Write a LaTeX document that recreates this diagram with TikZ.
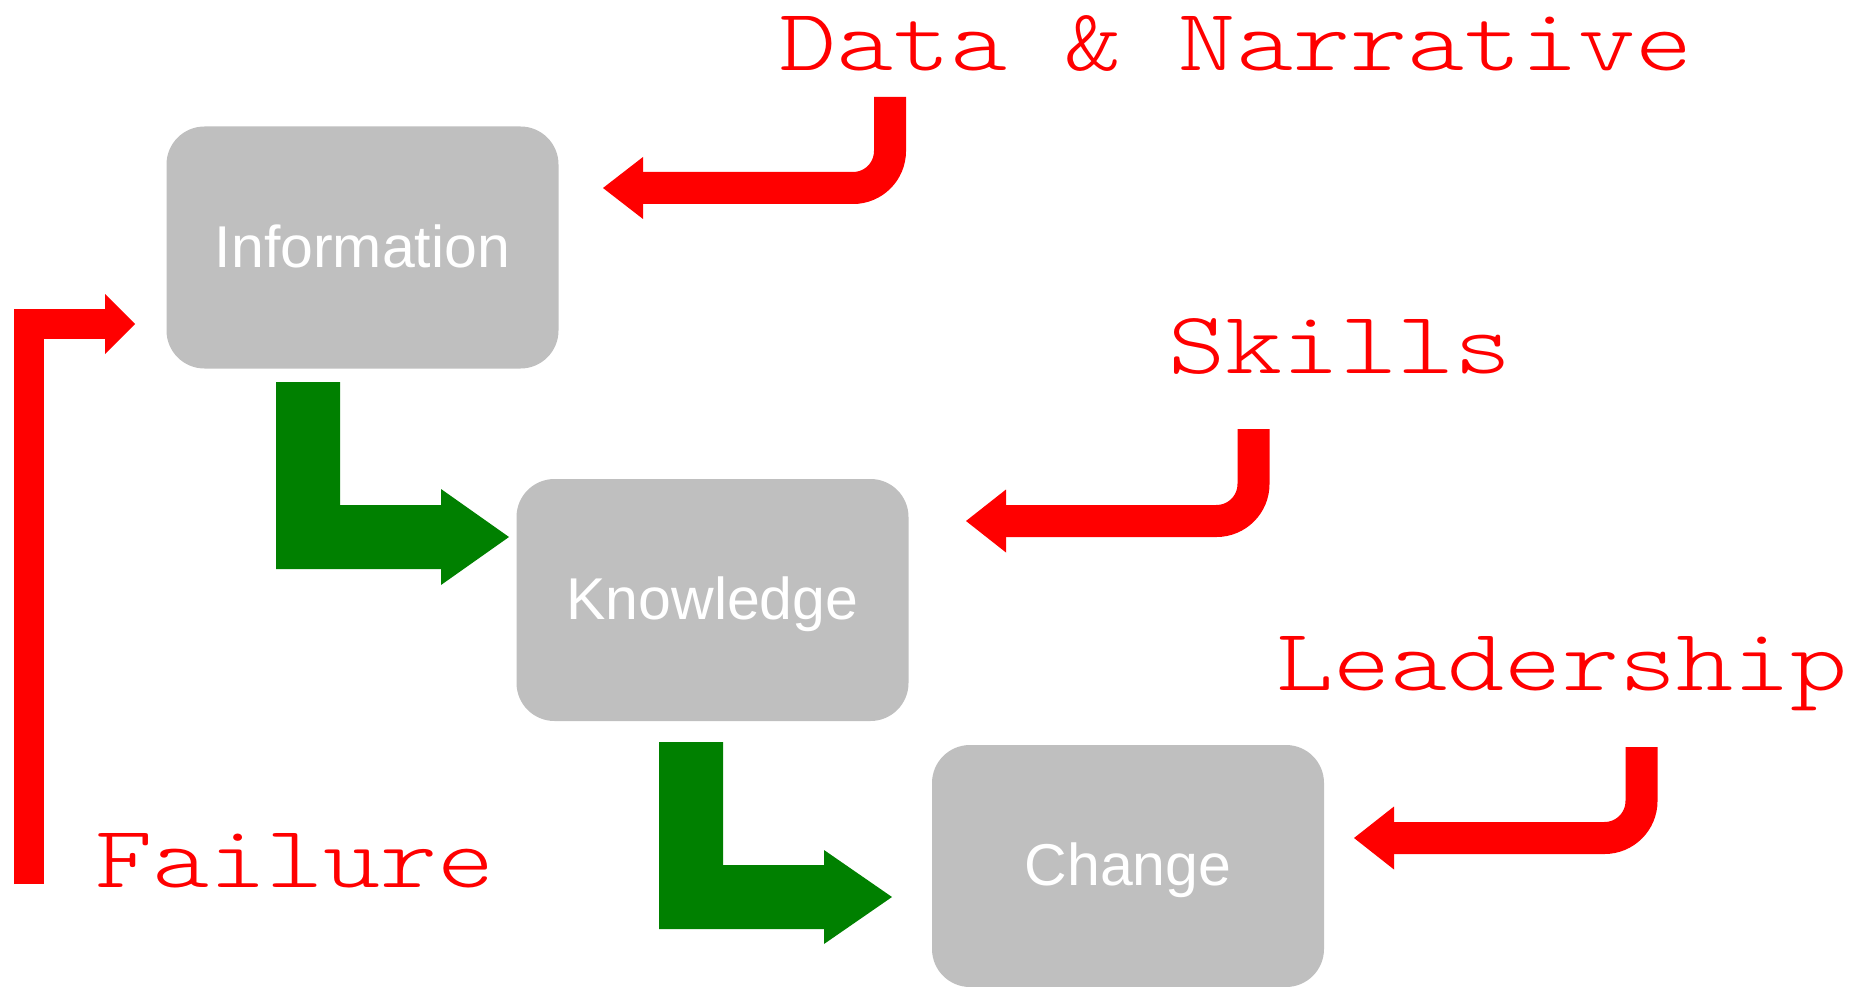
\documentclass[tikz,border=0pt]{standalone}
\usepackage{fontspec}
\usepackage{graphicx}
\newfontfamily\boxfont{Liberation Sans}
\newfontfamily\labelfont{lmmonolt10-regular.otf}
\definecolor{boxgray}{RGB}{191,191,191}
\definecolor{arrgreen}{RGB}{0,128,0}
\definecolor{arrred}{RGB}{255,0,0}
\tikzset{
  stagebox/.style={fill=boxgray, draw=none, rounded corners=38pt, minimum width=392pt, minimum height=242pt, inner sep=0pt,
    text=white, text height=43pt, text depth=4pt, font=\boxfont\fontsize{59}{59}\selectfont},
  redlabel/.style={text=arrred, anchor=base, inner sep=0pt, font=\labelfont\fontsize{88.4}{88.4}\selectfont},
  redbend/.style={draw=arrred, line width=32pt, rounded corners=37pt},
  redhead/.style={fill=arrred, draw=none},
  greenarrow/.style={fill=arrgreen, draw=none}
}
\newcommand{\wide}[1]{\scalebox{1.23}[1]{#1}}
\begin{document}
\begin{tikzpicture}[x=1pt,y=-1pt]
\useasboundingbox (0,0) rectangle (1858,987);
% boxes
\node[stagebox] (info) at (362.5,247.5) {Information};
\node[stagebox] (know) at (712.5,600) {Knowledge};
\node[stagebox] (chg) at (1128,866) {Change};
% labels
\node[redlabel] (data) at (1236,71) {\wide{Data \& Narrative}};
\node[redlabel] (skills) at (1340,373) {\wide{Skills}};
\node[redlabel] (lead) at (1562,690) {\wide{Leadership}};
\node[redlabel] (fail) at (295,887) {\wide{Failure}};
% Data & Narrative arrow
\coordinate (d0) at (890,97);
\coordinate (d1) at (890,188);
\coordinate (d2) at (643,188);
\coordinate (dt) at (603,188);
\draw[redbend] (d0) -- (d1) -- (d2);
\fill[redhead] ([yshift=-31pt]d2) -- (dt) -- ([yshift=31pt]d2) -- cycle;
% Skills arrow
\coordinate (s0) at (1253.5,429);
\coordinate (s1) at (1253.5,521);
\coordinate (s2) at (1006,521);
\coordinate (st) at (966,521);
\draw[redbend] (s0) -- (s1) -- (s2);
\fill[redhead] ([yshift=-31.5pt]s2) -- (st) -- ([yshift=31.5pt]s2) -- cycle;
% Leadership arrow
\coordinate (l0) at (1641.5,747);
\coordinate (l1) at (1641.5,838);
\coordinate (l2) at (1394,838);
\coordinate (lt) at (1354,838);
\draw[redbend] (l0) -- (l1) -- (l2);
\fill[redhead] ([yshift=-31.5pt]l2) -- (lt) -- ([yshift=31.5pt]l2) -- cycle;
% Failure arrow
\coordinate (f0) at (29,884);
\coordinate (f1) at (29,324);
\coordinate (f2) at (105,324);
\coordinate (ft) at (135,324);
\draw[draw=arrred, line width=30pt, miter limit=10] (f0) -- (f1) -- (f2);
\fill[redhead] ([yshift=-30pt]f2) -- (ft) -- ([yshift=30pt]f2) -- cycle;
% green arrows
\fill[greenarrow] (276,382) -- (340,382) -- (340,505) -- (441,505) -- (441,489) -- (509,537)
  -- (441,585) -- (441,569) -- (276,569) -- cycle;
\fill[greenarrow] (659,742) -- (723,742) -- (723,865) -- (824,865) -- (824,850) -- (892,897)
  -- (824,944) -- (824,929) -- (659,929) -- cycle;
\end{tikzpicture}
\end{document}
